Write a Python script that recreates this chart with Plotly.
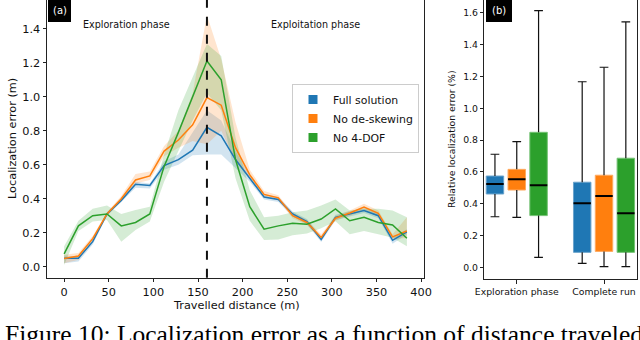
import plotly.graph_objects as go

# ---------------- data ----------------
distance_m = [0, 16, 32, 48, 64, 80, 96, 112, 128, 144, 160, 176, 192,
              208, 224, 240, 256, 272, 288, 304, 320, 336, 352, 368, 384]

full_mean = [0.05, 0.05, 0.147, 0.31, 0.39, 0.485, 0.478, 0.595, 0.63, 0.685, 0.82, 0.77, 0.63,
             0.52, 0.41, 0.395, 0.31, 0.265, 0.16, 0.29, 0.31, 0.33, 0.30, 0.155, 0.205]
full_lo = [0.02, 0.03, 0.13, 0.30, 0.38, 0.465, 0.46, 0.57, 0.60, 0.655, 0.66, 0.66, 0.58,
           0.50, 0.395, 0.38, 0.295, 0.25, 0.145, 0.275, 0.295, 0.315, 0.285, 0.135, 0.19]
full_hi = [0.065, 0.06, 0.16, 0.32, 0.40, 0.50, 0.49, 0.62, 0.66, 0.79, 0.92, 0.86, 0.68,
           0.54, 0.425, 0.41, 0.325, 0.28, 0.175, 0.305, 0.325, 0.345, 0.315, 0.17, 0.22]

deskew_mean = [0.048, 0.063, 0.165, 0.31, 0.40, 0.51, 0.534, 0.68, 0.745, 0.835, 0.995, 0.95, 0.70,
               0.54, 0.425, 0.405, 0.30, 0.26, 0.172, 0.285, 0.316, 0.35, 0.314, 0.175, 0.21]
deskew_lo = [0.02, 0.04, 0.15, 0.30, 0.385, 0.49, 0.51, 0.65, 0.70, 0.74, 0.72, 0.80, 0.62,
             0.52, 0.41, 0.39, 0.285, 0.245, 0.16, 0.27, 0.30, 0.33, 0.295, 0.16, 0.17]
deskew_hi = [0.07, 0.08, 0.18, 0.32, 0.415, 0.545, 0.56, 0.71, 0.80, 1.02, 1.48, 1.22, 0.85,
             0.57, 0.445, 0.42, 0.315, 0.275, 0.19, 0.30, 0.33, 0.37, 0.33, 0.19, 0.29]

nodof_mean = [0.075, 0.24, 0.30, 0.31, 0.24, 0.26, 0.31, 0.59, 0.79, 1.00, 1.21, 1.10, 0.63,
              0.353, 0.22, 0.24, 0.255, 0.25, 0.28, 0.34, 0.27, 0.29, 0.26, 0.245, 0.167]
nodof_lo = [0.01, 0.21, 0.265, 0.275, 0.147, 0.216, 0.265, 0.50, 0.68, 0.86, 1.02, 0.92, 0.52,
            0.27, 0.157, 0.16, 0.185, 0.195, 0.226, 0.267, 0.19, 0.21, 0.19, 0.17, 0.12]
nodof_hi = [0.12, 0.27, 0.34, 0.36, 0.31, 0.334, 0.353, 0.66, 0.92, 1.12, 1.31, 1.24, 0.76,
            0.45, 0.29, 0.30, 0.32, 0.33, 0.36, 0.395, 0.33, 0.34, 0.34, 0.33, 0.29]

series_names = ["Full solution", "No de-skewing", "No 4-DOF"]
phase_boundary_m = 160
phase_labels = ["Exploration phase", "Exploitation phase"]

box_groups = ["Exploration phase", "Complete run"]
full_box = dict(low=[0.318, 0.025], q1=[0.461, 0.094], med=[0.524, 0.402], q3=[0.574, 0.535], high=[0.711, 1.167])
deskew_box = dict(low=[0.314, 0.004], q1=[0.486, 0.100], med=[0.553, 0.448], q3=[0.616, 0.579], high=[0.790, 1.258])
nodof_box = dict(low=[0.063, 0.004], q1=[0.325, 0.094], med=[0.516, 0.340], q3=[0.849, 0.686], high=[1.614, 1.543])

x_ticks_left = [0, 50, 100, 150, 200, 250, 300, 350, 400]
y_ticks_left = [0.0, 0.2, 0.4, 0.6, 0.8, 1.0, 1.2, 1.4]
y_ticks_right = [0.0, 0.2, 0.4, 0.6, 0.8, 1.0, 1.2, 1.4, 1.6]

caption = "Figure 10: Localization error as a function of distance traveled"

# ---------------- style ----------------
W, H = 640, 340
colors = ["#1f77b4", "#ff7f0e", "#2ca02c"]
bands = ["rgba(31,119,180,0.2)", "rgba(255,127,14,0.2)", "rgba(44,160,44,0.2)"]
box_edges = ["#6aa3cc", "#ffaa60", "#74c274"]
FONT = "DejaVu Sans"


def px(x):
    return x / W


def py(y):
    return 1 - y / H


fig = go.Figure()

# ---- left panel: lines with confidence bands ----
line_sets = [(full_mean, full_lo, full_hi), (deskew_mean, deskew_lo, deskew_hi), (nodof_mean, nodof_lo, nodof_hi)]
for i, (m, lo, hi) in enumerate(line_sets):
    fig.add_trace(go.Scatter(x=distance_m, y=lo, mode="lines", line=dict(width=0),
                             showlegend=False, hoverinfo="skip", xaxis="x", yaxis="y"))
    fig.add_trace(go.Scatter(x=distance_m, y=hi, mode="lines", line=dict(width=0),
                             fill="tonexty", fillcolor=bands[i],
                             showlegend=False, hoverinfo="skip", xaxis="x", yaxis="y"))
for i, (m, lo, hi) in enumerate(line_sets):
    fig.add_trace(go.Scatter(x=distance_m, y=m, mode="lines", line=dict(color=colors[i], width=1.5),
                             showlegend=False, xaxis="x", yaxis="y"))
# legend entries (square markers)
for i, name in enumerate(series_names):
    fig.add_trace(go.Scatter(x=[None], y=[None], mode="markers", name=name,
                             marker=dict(symbol="square", size=9, color=colors[i]),
                             xaxis="x", yaxis="y"))

# ---- right panel: box plots ----
offsets = [-0.25, 0.0, 0.25]
box_w = 0.2
cap_w = 0.1
for i, st in enumerate([full_box, deskew_box, nodof_box]):
    pos = [g + offsets[i] for g in range(len(box_groups))]
    fig.add_trace(go.Bar(x=pos, y=[b - a for a, b in zip(st["q1"], st["q3"])], base=st["q1"],
                         width=box_w, marker=dict(color=colors[i], line=dict(color=box_edges[i], width=1)),
                         showlegend=False, xaxis="x2", yaxis="y2"))
    wx, wy, mx, my = [], [], [], []
    for p, lo, q1, md, q3, hi in zip(pos, st["low"], st["q1"], st["med"], st["q3"], st["high"]):
        wx += [p, p, None, p, p, None, p - cap_w / 2, p + cap_w / 2, None, p - cap_w / 2, p + cap_w / 2, None]
        wy += [lo, q1, None, q3, hi, None, lo, lo, None, hi, hi, None]
        mx += [p - box_w / 2, p + box_w / 2, None]
        my += [md, md, None]
    fig.add_trace(go.Scatter(x=wx, y=wy, mode="lines", line=dict(color="#111111", width=1.2),
                             showlegend=False, xaxis="x2", yaxis="y2"))
    fig.add_trace(go.Scatter(x=mx, y=my, mode="lines", line=dict(color="black", width=2),
                             showlegend=False, xaxis="x2", yaxis="y2"))

# ---------------- layout ----------------
axis_common = dict(showline=True, linecolor="#222222", linewidth=1, mirror=True,
                   ticks="outside", ticklen=3.5, tickwidth=0.9, tickcolor="#222222",
                   showgrid=False, zeroline=False)

fig.update_layout(
    width=W, height=H, margin=dict(l=0, r=0, t=0, b=0),
    paper_bgcolor="white", plot_bgcolor="white", template=None,
    font=dict(family=FONT, color="#111111"),
    barmode="overlay",
    xaxis=dict(domain=[px(47), px(424)], range=[-19.2, 403.2], tickvals=x_ticks_left,
               tickfont=dict(size=11.3), anchor="y", **axis_common),
    yaxis=dict(domain=[py(277.7), 1.0], range=[-0.065, 1.569], tickvals=y_ticks_left,
               tickformat=".1f", tickfont=dict(size=11.3), anchor="x", **axis_common),
    xaxis2=dict(domain=[px(484.3), px(637)], range=[-0.372, 1.378], tickvals=[0, 1],
                ticktext=box_groups, tickfont=dict(size=9.3), anchor="y2", **axis_common),
    yaxis2=dict(domain=[py(279.3), 1.0], range=[-0.0755, 1.681], tickvals=y_ticks_right,
                tickformat=".1f", tickfont=dict(size=9.3), anchor="x2", **axis_common),
    legend=dict(x=px(292), y=py(84), xanchor="left", yanchor="top", traceorder="normal",
                bgcolor="rgba(255,255,255,0.85)", bordercolor="#cccccc", borderwidth=1,
                font=dict(size=10.9, family=FONT), itemwidth=30, tracegroupgap=0),
    showlegend=True,
)

# phase boundary
fig.add_shape(type="line", xref="x", yref="y domain", x0=phase_boundary_m, x1=phase_boundary_m,
              y0=0, y1=1, line=dict(color="#111111", width=2, dash="dash"))


def ann(text, x, y, size, angle=0, color="#111111", family=FONT, xa="center", ya="middle"):
    return dict(text=text, x=px(x), y=py(y), xref="paper", yref="paper", xanchor=xa, yanchor=ya,
                showarrow=False, textangle=angle, font=dict(size=size, color=color, family=family))


annotations = [
    ann(phase_labels[0], 126, 25, 9.6),
    ann(phase_labels[1], 315, 25, 9.6),
    ann("Travelled distance (m)", 236, 305, 11.3),
    ann("Localization error (m)", 12, 139, 11.3, angle=-90),
    ann("Relative localization error (%)", 451, 139, 9.3, angle=-90),
    ann("(a)", 59.5, 11, 10, color="white"),
    ann("(b)", 499, 11, 10, color="white"),
    ann(caption, 3, 318, 25.5, color="black", family="Liberation Serif", xa="left", ya="top"),
]
fig.update_layout(annotations=annotations)

fig.add_shape(type="rect", xref="paper", yref="paper", x0=px(48), x1=px(71), y0=py(22), y1=py(0),
              fillcolor="black", line=dict(width=0), layer="above")
fig.add_shape(type="rect", xref="paper", yref="paper", x0=px(486), x1=px(512), y0=py(22), y1=py(0),
              fillcolor="black", line=dict(width=0), layer="above")

fig.write_html("out.html", config={"displayModeBar": False},
               post_script="document.body.style.margin='0px';")
